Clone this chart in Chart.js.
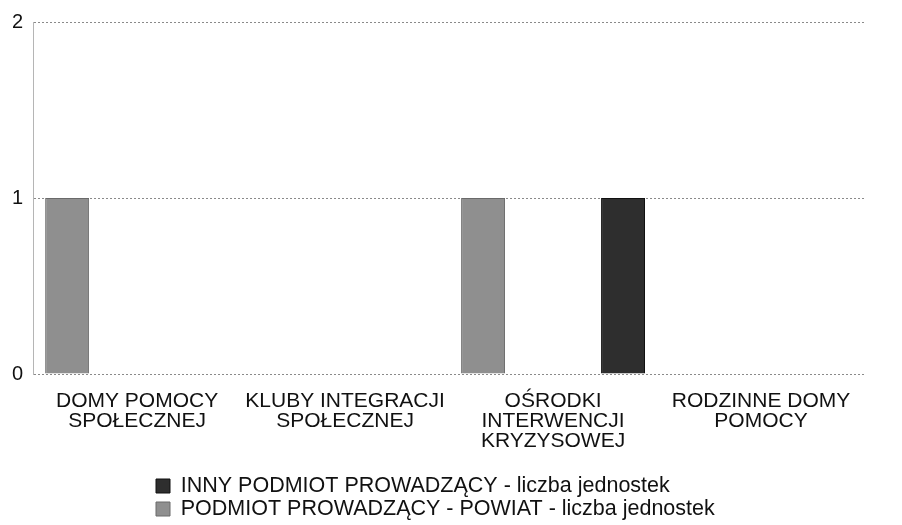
<!DOCTYPE html>
<html>
<head>
<meta charset="utf-8">
<script src="https://cdn.jsdelivr.net/npm/chart.js@4.4.1/dist/chart.umd.min.js"></script>
<style>
  html, body { margin: 0; padding: 0; background: #ffffff; }
  #wrap { width: 902px; height: 525px; position: relative; }
</style>
</head>
<body>
<div id="wrap"><canvas id="c" width="902" height="525"></canvas></div>
<script>
const categories = [
  ['DOMY POMOCY', 'SPOŁECZNEJ'],
  ['KLUBY INTEGRACJI', 'SPOŁECZNEJ'],
  ['OŚRODKI', 'INTERWENCJI', 'KRYZYSOWEJ'],
  ['RODZINNE DOMY', 'POMOCY']
];
const seriesNames = [
  'INNY PODMIOT PROWADZĄCY - liczba jednostek',
  'PODMIOT PROWADZĄCY - POWIAT - liczba jednostek'
];
const innyValues   = [0, 0, 1, 0];
const powiatValues = [1, 0, 1, 0];
const yTicks = [0, 1, 2];

const FONT = "'Liberation Sans', Arial, sans-serif";

// place the legend block where the reference shows it
const placeLegend = {
  id: 'placeLegend',
  afterLayout(chart) {
    const lg = chart.legend;
    if (!lg) return;
    const pad = lg.options.labels.padding;
    const fs = lg.options.labels.font.size;
    const dx = 156 - pad - lg.left;
    const dy = (486 - pad - fs / 2) - lg.top;
    lg.left += dx; lg.right += dx;
    lg.top += dy; lg.bottom += dy;
  }
};

new Chart(document.getElementById('c'), {
  type: 'bar',
  data: {
    labels: categories,
    datasets: [
      {
        label: seriesNames[1],
        data: powiatValues,
        backgroundColor: '#8f8f8f',
        borderColor: '#6a6a6a',
        borderWidth: 1,
        categoryPercentage: 1.346,
        barPercentage: 0.314
      },
      {
        label: seriesNames[0],
        data: innyValues,
        backgroundColor: '#2e2e2e',
        borderColor: '#111111',
        borderWidth: 1,
        categoryPercentage: 1.346,
        barPercentage: 0.314
      }
    ]
  },
  options: {
    responsive: false,
    animation: false,
    devicePixelRatio: 1,
    layout: { padding: { left: 2, right: 37, top: 7, bottom: 1 } },
    scales: {
      x: {
        grid: { display: false, drawTicks: false },
        border: { display: false },
        ticks: {
          color: '#111',
          font: { family: FONT, size: 21, lineHeight: '20px' },
          padding: 17,
          maxRotation: 0,
          autoSkip: false
        }
      },
      y: {
        min: 0,
        max: 2,
        afterBuildTicks(axis) { axis.ticks = yTicks.map(v => ({ value: v })); },
        grid: { color: '#8a8a8a', lineWidth: 1, drawTicks: false },
        border: { display: true, color: '#b5b5b5', width: 1, dash: [2, 2] },
        ticks: {
          color: '#111',
          font: { family: FONT, size: 20 },
          padding: 10,
          callback: v => String(v)
        }
      }
    },
    plugins: {
      legend: {
        position: 'bottom',
        align: 'start',
        reverse: true,
        labels: {
          color: '#111',
          font: { family: FONT, size: 21.5 },
          boxWidth: 14,
          boxHeight: 14,
          padding: 1.5
        }
      },
      tooltip: { enabled: false }
    }
  },
  plugins: [placeLegend]
});
</script>
</body>
</html>
